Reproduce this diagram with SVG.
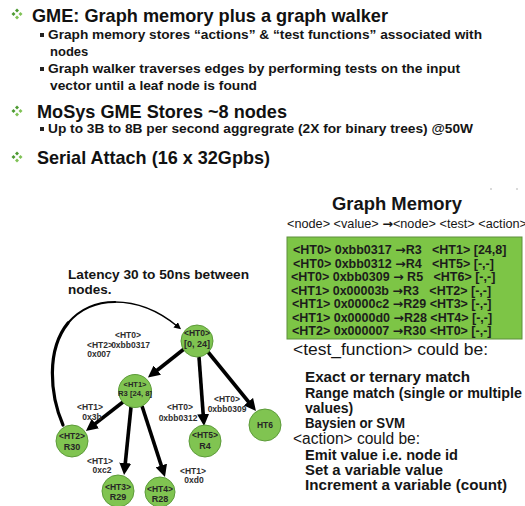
<svg xmlns="http://www.w3.org/2000/svg" width="525" height="506" viewBox="0 0 525 506">
  <defs>
    <style>
      text { font-family: "Liberation Sans", Arial, sans-serif; fill: #151515; }
      .h { font-size: 19px; font-weight: bold; fill: #111; }
      .s { font-size: 13px; font-weight: bold; }
      .s2 { font-size: 12px; font-weight: bold; }
      .lat { font-size: 13.5px; font-weight: bold; }
      .gm { font-size: 18px; font-weight: bold; }
      .hdr { font-size: 12px; }
      .row { font-size: 12.5px; font-weight: bold; fill: #1c1c1c; }
      .ar { font-family: "DejaVu Sans", sans-serif; font-weight: bold; }
      .cap { font-size: 16px; }
      .item { font-size: 14px; font-weight: bold; }
      .node circle { fill: #80c451; stroke: #5d9b3a; stroke-width: 1; }
      .node text { font-size: 8.5px; font-weight: bold; text-anchor: middle; fill: #262626; }
      .el { font-size: 8.5px; font-weight: bold; text-anchor: middle; fill: #2e2e2e; }
      .edge { fill: none; stroke: #000; stroke-width: 3.6; marker-end: url(#ah); }
      .curve { fill: none; stroke: #000; stroke-linecap: round; }
    </style>
    <marker id="ah" viewBox="0 0 12 12" markerWidth="12" markerHeight="12" refX="3" refY="6" orient="auto" markerUnits="userSpaceOnUse">
      <path d="M0,0 L12,6 L0,12 z" fill="#000"/>
    </marker>
    <marker id="ahs" viewBox="0 0 8 8" markerWidth="7" markerHeight="7" refX="2" refY="4" orient="auto" markerUnits="userSpaceOnUse">
      <path d="M0,0 L8,4 L0,8 z" fill="#000"/>
    </marker>
    <!-- four-diamond bullet -->
    <g id="dia">
      <polygon points="0,-5.5 2,-3.5 0,-1.5 -2,-3.5" fill="#4c9a30"/>
      <polygon points="3.5,-2 5.5,0 3.5,2 1.5,0" fill="#7fc255"/>
      <polygon points="0,1.5 2,3.5 0,5.5 -2,3.5" fill="#7fc255"/>
      <polygon points="-3.5,-2 -1.5,0 -3.5,2 -5.5,0" fill="#4c9a30"/>
    </g>
    <rect id="sq" width="4" height="4" fill="#222"/>
  </defs>

  <rect width="525" height="506" fill="#fff"/>

  <!-- bullet list -->
  <g id="bullets">
    <use href="#dia" x="17" y="14"/>
    <text class="h" x="32" y="22" textLength="356" lengthAdjust="spacingAndGlyphs">GME: Graph memory plus a graph walker</text>
    <use href="#sq" x="40" y="33"/>
    <text class="s" x="48" y="39" textLength="434" lengthAdjust="spacingAndGlyphs">Graph memory stores “actions” &amp; “test functions” associated with</text>
    <text class="s" x="50" y="56">nodes</text>
    <use href="#sq" x="40" y="67"/>
    <text class="s" x="48" y="73" textLength="412" lengthAdjust="spacingAndGlyphs">Graph walker traverses edges by performing tests on the input</text>
    <text class="s" x="50" y="90" textLength="207" lengthAdjust="spacingAndGlyphs">vector until a leaf node is found</text>

    <use href="#dia" x="17" y="111"/>
    <text class="h" x="37" y="118" textLength="250" lengthAdjust="spacingAndGlyphs">MoSys GME Stores ~8 nodes</text>
    <use href="#sq" x="40" y="127"/>
    <text class="s2" x="48" y="133" textLength="425" lengthAdjust="spacingAndGlyphs">Up to 3B to 8B per second aggregrate (2X for binary trees) @50W</text>

    <use href="#dia" x="17" y="157"/>
    <text class="h" x="37" y="164" textLength="233" lengthAdjust="spacingAndGlyphs">Serial Attach (16 x 32Gpbs)</text>
  </g>

  <circle cx="491" cy="189" r="0.8" fill="#aaa"/>
  <circle cx="517" cy="189" r="0.8" fill="#aaa"/>

  <!-- graph memory table -->
  <g id="graph-memory">
    <text class="gm" x="332" y="210" textLength="130" lengthAdjust="spacingAndGlyphs">Graph Memory</text>
    <text class="hdr" x="287" y="228" textLength="240" lengthAdjust="spacingAndGlyphs">&lt;node&gt; &lt;value&gt; <tspan class="ar">→</tspan>&lt;node&gt; &lt;test&gt; &lt;action&gt;</text>
    <rect x="287" y="237" width="235" height="102" fill="#7dc546" stroke="#5e8f3c" stroke-width="1"/>
    <text class="row" xml:space="preserve" x="293" y="254">&lt;HT0&gt; 0xbb0317 <tspan class="ar">→</tspan>R3   &lt;HT1&gt; [24,8]</text>
    <text class="row" xml:space="preserve" x="293" y="267.5">&lt;HT0&gt; 0xbb0312 <tspan class="ar">→</tspan>R4   &lt;HT5&gt; [-,-]</text>
    <text class="row" xml:space="preserve" x="291" y="281">&lt;HT0&gt; 0xbb0309 <tspan class="ar">→</tspan> R5   &lt;HT6&gt; [-,-]</text>
    <text class="row" xml:space="preserve" x="291" y="294.5">&lt;HT1&gt; 0x00003b <tspan class="ar">→</tspan>R3   &lt;HT2&gt; [-,-]</text>
    <text class="row" x="292" y="308">&lt;HT1&gt; 0x0000c2 <tspan class="ar">→</tspan>R29 &lt;HT3&gt; [-,-]</text>
    <text class="row" x="292" y="321.5">&lt;HT1&gt; 0x0000d0 <tspan class="ar">→</tspan>R28 &lt;HT4&gt; [-,-]</text>
    <text class="row" x="292" y="335">&lt;HT2&gt; 0x000007 <tspan class="ar">→</tspan>R30 &lt;HT0&gt; [-,-]</text>
  </g>

  <!-- notes on tests and actions -->
  <g id="notes">
    <text class="cap" x="293" y="355" textLength="195" lengthAdjust="spacingAndGlyphs">&lt;test_function&gt; could be:</text>
    <text class="item" x="305" y="382" textLength="165" lengthAdjust="spacingAndGlyphs">Exact or ternary match</text>
    <text class="item" x="305" y="398" textLength="217" lengthAdjust="spacingAndGlyphs">Range match (single or multiple</text>
    <text class="item" x="305" y="413">values)</text>
    <text class="item" x="305" y="428" textLength="100" lengthAdjust="spacingAndGlyphs">Baysien or SVM</text>
    <text class="cap" x="293" y="444" textLength="127" lengthAdjust="spacingAndGlyphs">&lt;action&gt; could be:</text>
    <text class="item" x="305" y="460" textLength="153" lengthAdjust="spacingAndGlyphs">Emit value i.e. node id</text>
    <text class="item" x="305" y="475" textLength="138" lengthAdjust="spacingAndGlyphs">Set a variable value</text>
    <text class="item" x="305" y="490" textLength="202" lengthAdjust="spacingAndGlyphs">Increment a variable (count)</text>
  </g>

  <text class="lat" x="68" y="279" textLength="181" lengthAdjust="spacingAndGlyphs">Latency 30 to 50ns between</text>
  <text class="lat" x="68" y="294">nodes.</text>

  <!-- connectors -->
  <g id="connectors">
    <path class="edge" d="M184,349 L155,372"/>
    <path class="edge" d="M199,357 L203.4,417"/>
    <path class="edge" d="M208,352 L250.3,404"/>
    <path class="edge" d="M123,402 L93,425.4"/>
    <path class="edge" d="M131,407 L125,466"/>
    <path class="edge" d="M142,406 L162.2,468.4"/>
    <path class="curve" stroke-width="3.2" d="M63,425 C50,395 46,350 68,323"/>
    <path class="curve" stroke-width="2.2" d="M68,323 C80,309 97,302 115,302"/>
    <path class="curve" stroke-width="1.4" marker-end="url(#ahs)" d="M115,302 C140,302 160,312 177,326"/>

    <text class="el" x="128" y="338">&lt;HT0&gt;</text>
    <text class="el" x="130.5" y="348">0xbb0317</text>
    <text class="el" x="100" y="348">&lt;HT2&gt;</text>
    <text class="el" x="99" y="357">0x007</text>
    <text class="el" x="90" y="410">&lt;HT1&gt;</text>
    <text class="el" x="92" y="420">0x3b</text>
    <text class="el" x="180" y="410">&lt;HT0&gt;</text>
    <text class="el" x="178" y="421">0xbb0312</text>
    <text class="el" x="227" y="402">&lt;HT0&gt;</text>
    <text class="el" x="227" y="412">0xbb0309</text>
    <text class="el" x="100" y="464">&lt;HT1&gt;</text>
    <text class="el" x="102" y="473">0xc2</text>
    <text class="el" x="193" y="474">&lt;HT1&gt;</text>
    <text class="el" x="194" y="483">0xd0</text>
  </g>

  <!-- nodes -->
  <g id="node-ht0" class="node">
    <circle cx="197" cy="341" r="16"/>
    <text x="197" y="336">&lt;HT0&gt;</text>
    <text x="197" y="347" style="font-size:9px">[0, 24]</text>
  </g>
  <g id="node-ht1" class="node">
    <circle cx="135" cy="391" r="16.5"/>
    <text x="135" y="387" style="font-size:7.5px">&lt;HT1&gt;</text>
    <text x="135" y="396" style="font-size:8px" textLength="34" lengthAdjust="spacingAndGlyphs">R3 [24, 8]</text>
  </g>
  <g id="node-ht2" class="node">
    <circle cx="72" cy="441" r="16"/>
    <text x="72" y="439">&lt;HT2&gt;</text>
    <text x="72" y="450" style="font-size:9px">R30</text>
  </g>
  <g id="node-ht3" class="node">
    <circle cx="118" cy="491" r="16"/>
    <text x="118" y="490">&lt;HT3&gt;</text>
    <text x="118" y="500" style="font-size:9px">R29</text>
  </g>
  <g id="node-ht4" class="node">
    <circle cx="160" cy="492" r="15"/>
    <text x="160" y="492">&lt;HT4&gt;</text>
    <text x="160" y="502" style="font-size:9px">R28</text>
  </g>
  <g id="node-ht5" class="node">
    <circle cx="205" cy="441" r="16"/>
    <text x="205" y="438">&lt;HT5&gt;</text>
    <text x="205" y="449" style="font-size:9px">R4</text>
  </g>
  <g id="node-ht6" class="node">
    <circle cx="265" cy="425" r="16"/>
    <text x="265" y="428">HT6</text>
  </g>
</svg>
